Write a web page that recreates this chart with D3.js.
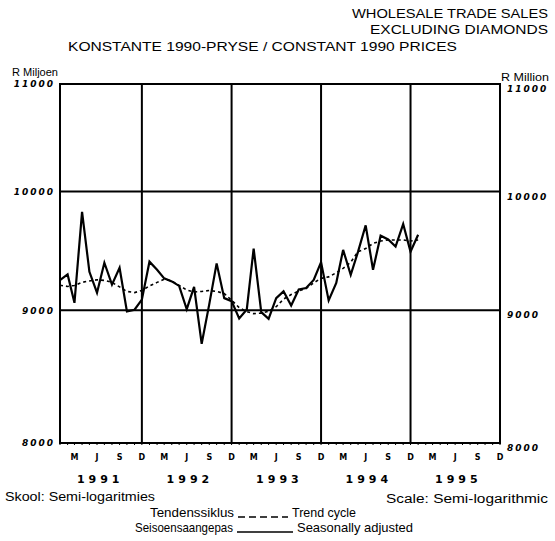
<!DOCTYPE html>
<html>
<head>
<meta charset="utf-8">
<script src="https://cdn.jsdelivr.net/npm/d3@7"></script>
<style>
  html, body { margin: 0; padding: 0; background: #fff; }
  svg { display: block; }
  text { fill: #000; font-family: "Liberation Sans", Arial, sans-serif; }
  .ylbl { font-family: "DejaVu Sans", sans-serif; font-size: 9px; font-weight: bold; font-style: italic; letter-spacing: 2px; }
  .mlbl { font-family: "DejaVu Sans", sans-serif; font-size: 8px; font-weight: bold; }
  .yrlbl { font-family: "DejaVu Sans", sans-serif; font-size: 11px; font-weight: bold; letter-spacing: 4px; }
</style>
</head>
<body>
<div id="chart"></div>
<script>
// wholesale trade sales excl. diamonds, constant 1990 prices, R million
// monthly from Jan 1991 to Jan 1995
var START_YEAR = 1991;
var seasAdj = [
  9243, 9290, 9059, 9821, 9312, 9141, 9387, 9207, 9345, 8990, 9004, 9085,   // 1991
  9396, 9329, 9258, 9233, 9196, 9008, 9188, 8736, 9049, 9382, 9097, 9073,   // 1992
  8935, 9006, 9506, 8985, 8931, 9097, 9152, 9038, 9167, 9179, 9245, 9392,   // 1993
  9079, 9221, 9495, 9287, 9480, 9704, 9329, 9615, 9583, 9523, 9715, 9480,   // 1994
  9623                                                                      // 1995
];
var trend = [
  9202, 9192, 9200, 9225, 9237, 9246, 9241, 9225, 9188, 9151, 9142, 9159,
  9196, 9225, 9250, 9237, 9200, 9163, 9147, 9151, 9159, 9151, 9134, 9081,
  9020, 8989, 8973, 8977, 8992, 9028, 9089, 9126, 9155, 9175, 9221, 9258,
  9270, 9304, 9340, 9392, 9480, 9506, 9549, 9570, 9579, 9579, 9579, 9570,
  9579
];
var yTicks = [8000, 9000, 10000, 11000];
var monthLetters = ["M", "J", "S", "D"];      // March, June, September, December
var monthIdx = [2, 5, 8, 11];
var years = [1991, 1992, 1993, 1994, 1995];

var W = 555, H = 541;
var svg = d3.select("#chart").append("svg").attr("width", W).attr("height", H);

var x = d3.scaleTime()
  .domain([new Date(1991, 0, 1), new Date(1995, 11, 1)])
  .range([60, 500]);
var y = d3.scaleLog().domain([8000, 11000]).range([443, 84]);

function dateOf(i) { return new Date(START_YEAR, i, 1); }

// fixed-width text helper (the scan's typeface is wider than ours)
function txt(xp, yp, s, size, len, anchor) {
  var t = svg.append("text").attr("x", xp).attr("y", yp).attr("font-size", size).text(s);
  if (anchor) t.attr("text-anchor", anchor);
  if (len) t.attr("textLength", len).attr("lengthAdjust", "spacingAndGlyphs");
  return t;
}

// ---- titles ----
txt(548, 18, "WHOLESALE TRADE SALES", 13.5, 196, "end");
txt(548, 34, "EXCLUDING DIAMONDS", 13.5, 178, "end");
txt(68, 51, "KONSTANTE 1990-PRYSE / CONSTANT 1990 PRICES", 13.5, 389);
txt(12, 76, "R Miljoen", 10, 46);
txt(549, 81, "R Million", 10, 48, "end");

// ---- grid ----
var x0 = x.range()[0], x1 = x.range()[1];
var g = svg.append("g").attr("stroke", "#000").attr("stroke-width", 2).attr("fill", "none");
[9000, 10000].forEach(function (v) {
  g.append("line").attr("x1", x0).attr("x2", x1).attr("y1", y(v)).attr("y2", y(v));
});
[1991, 1992, 1993, 1994].forEach(function (yr) {
  var xx = x(new Date(yr, 11, 1));
  g.append("line").attr("x1", xx).attr("x2", xx).attr("y1", y(11000)).attr("y2", y(8000));
});
g.append("rect").attr("x", x0).attr("y", y(11000)).attr("width", x1 - x0).attr("height", y(8000) - y(11000));

// small month ticks along the bottom
var allMonths = d3.range(0, 60).map(dateOf);
svg.append("g").selectAll("line").data(allMonths).join("line")
  .attr("x1", function (d) { return x(d); }).attr("x2", function (d) { return x(d); })
  .attr("y1", y(8000)).attr("y2", y(8000) + 2).attr("stroke", "#000").attr("stroke-width", 1);

// ---- y axes ----
var yl = svg.append("g").attr("transform", "translate(" + (x0 - 2) + ",0)")
  .call(d3.axisLeft(y).tickValues(yTicks).tickSize(0).tickFormat(d3.format("d")));
yl.select(".domain").remove();
yl.selectAll("text").attr("class", "ylbl").attr("font-family", null).attr("font-size", null);
var yr = svg.append("g").attr("transform", "translate(" + (x1 + 4) + ",0)")
  .call(d3.axisRight(y).tickValues(yTicks).tickSize(0).tickFormat(d3.format("d")));
yr.select(".domain").remove();
yr.selectAll("text").attr("class", "ylbl").attr("font-family", null).attr("font-size", null).attr("dy", "0.85em");

// ---- x labels ----
var mt = [];
years.forEach(function (yy) { monthIdx.forEach(function (m, i) { mt.push({ d: new Date(yy, m, 1), t: monthLetters[i] }); }); });
svg.append("g").selectAll("text").data(mt).join("text")
  .attr("class", "mlbl").attr("x", function (d) { return x(d.d); }).attr("y", 460)
  .attr("text-anchor", "middle").text(function (d) { return d.t; });
svg.append("g").selectAll("text").data(years).join("text")
  .attr("class", "yrlbl").attr("x", function (d) { return x(new Date(d, 5, 10)) + 1; }).attr("y", 483)
  .attr("text-anchor", "middle").text(function (d) { return d; });

// ---- series ----
var line = d3.line().x(function (d, i) { return x(dateOf(i)); }).y(function (d) { return y(d); });
svg.append("path").datum(trend).attr("d", line)
  .attr("fill", "none").attr("stroke", "#000").attr("stroke-width", 1.6).attr("stroke-dasharray", "3,3");
svg.append("path").datum(seasAdj).attr("d", line)
  .attr("fill", "none").attr("stroke", "#000").attr("stroke-width", 2.2).attr("stroke-linejoin", "miter");

// ---- footer ----
txt(5, 501, "Skool: Semi-logaritmies", 12.5, 150);
txt(548, 503, "Scale: Semi-logarithmic", 12.5, 162, "end");

// legend rows: afrikaans label, line sample, english label
function legendRow(yp, left, startX, leftLen, dash, right, rightX, rightLen) {
  txt(startX, yp, left, 13, leftLen);
  var end = startX + leftLen;
  var s = svg.append("line").attr("x1", end + 4).attr("x2", rightX - 4).attr("y1", yp).attr("y2", yp)
    .attr("stroke", "#000").attr("stroke-width", 1.4);
  if (dash) s.attr("stroke-dasharray", dash);
  txt(rightX, yp, right, 13, rightLen);
}
legendRow(517, "Tendenssiklus", 150, 84, "7,4", "Trend cycle", 292, 64);
legendRow(532, "Seisoensaangepas", 135, 98, null, "Seasonally adjusted", 297, 116);
</script>
</body>
</html>
